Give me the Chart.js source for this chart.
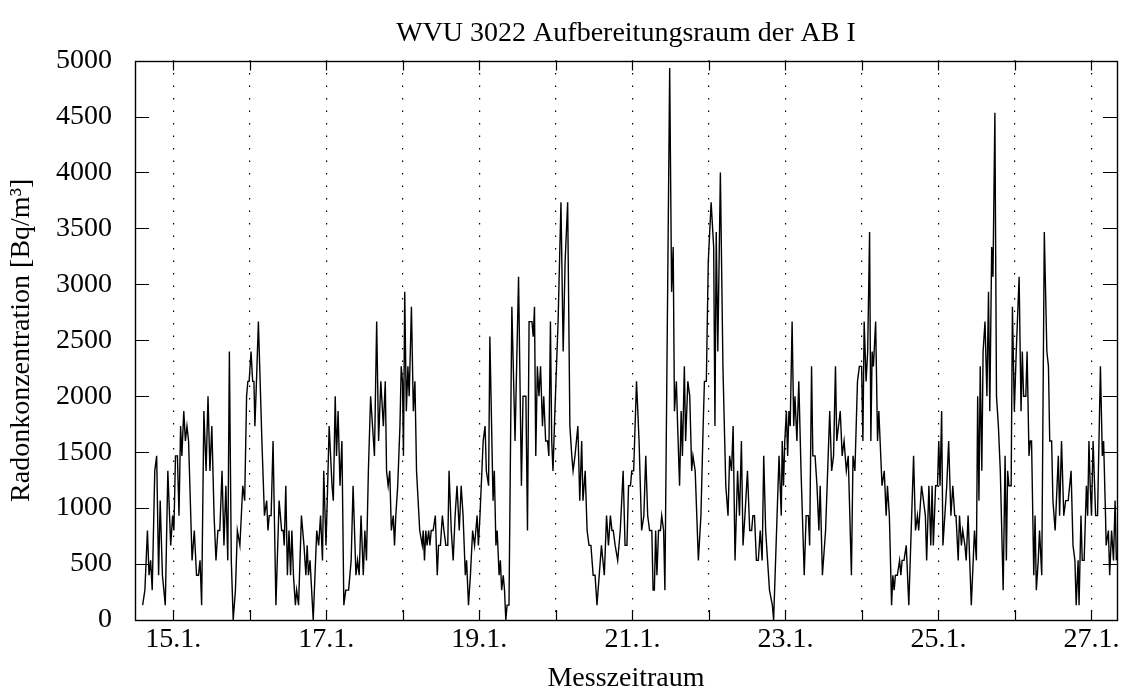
<!DOCTYPE html>
<html>
<head>
<meta charset="utf-8">
<title>WVU 3022 Aufbereitungsraum der AB I</title>
<script src="https://cdn.jsdelivr.net/npm/chart.js@4.4.1/dist/chart.umd.min.js"></script>
<style>
  body { margin: 0; background: #fff; }
  #radon-wrap { width: 1126px; height: 695px; }
</style>
</head>
<body>
<div id="radon-wrap"><canvas id="radon-chart" width="1126" height="695"></canvas></div>
<script>
// Messwerte: Stunden seit 14.1. 00:00 und Radonkonzentration in Bq/m³
const hours = [
  14.4, 15.1, 15.9, 16.4, 16.9, 17.4, 18.2, 18.8, 19.4, 19.9, 20.6, 21.5, 22.3, 23.2, 23.8,
  24.2, 24.7, 25.3, 25.8, 26.3, 26.7, 27.3, 27.8, 28.3, 28.8, 29.9, 30.6, 31.3, 31.9, 32.4,
  32.9, 33.6, 34.3, 34.9, 35.5, 36.1, 36.8, 37.4, 38.0, 38.6, 39.3, 39.9, 40.5, 41.1, 41.6,
  42.2, 42.8, 43.5, 44.1, 44.9, 45.8, 46.4, 47.0, 47.4, 47.8, 48.4, 48.9, 49.3, 49.6, 50.1,
  50.7, 51.8, 52.6, 53.3, 53.7, 54.1, 54.7, 55.3, 56.2, 57.2, 58.0, 58.5, 58.8, 59.3, 59.8,
  60.3, 60.8, 61.2, 61.7, 62.3, 62.7, 63.3, 64.2, 65.0, 65.6, 66.0, 66.4, 66.9, 67.9, 69.0,
  69.6, 70.2, 70.8, 71.2, 71.9, 72.3, 72.9, 73.8, 74.2, 74.8, 75.2, 75.7, 76.3, 76.9, 77.5,
  78.1, 79.0, 79.8, 80.4, 81.3, 81.8, 82.3, 82.9, 83.6, 84.1, 84.6, 85.2, 85.9, 87.1, 87.8,
  88.4, 89.1, 89.9, 90.5, 90.9, 91.4, 91.9, 92.4, 93.0, 93.4, 93.8, 94.4, 95.1, 95.5, 95.9,
  96.2, 96.6, 97.1, 97.6, 98.0, 98.7, 99.3, 99.8, 100.3, 101.3, 102.1, 102.4, 102.8, 103.2, 103.6,
  104.1, 104.5, 104.9, 105.5, 106.2, 106.8, 107.2, 107.8, 108.4, 108.9, 109.5, 110.1, 110.5, 111.2, 111.8,
  112.4, 113.0, 113.7, 114.3, 114.9, 115.6, 116.0, 116.6, 117.2, 117.9, 118.5, 118.9, 119.3, 119.7, 120.2,
  120.8, 121.2, 121.8, 122.2, 122.9, 123.3, 124.3, 124.7, 125.2, 125.6, 126.2, 126.6, 127.0, 127.5, 127.9,
  128.3, 128.7, 129.3, 130.2, 131.2, 132.3, 133.2, 133.7, 134.6, 135.1, 135.6, 136.5, 136.9, 137.3, 137.7,
  138.2, 138.7, 139.2, 139.8, 140.2, 140.8, 141.4, 141.8, 142.3, 142.7, 143.1, 143.7, 144.7, 145.6, 146.3,
  146.9, 147.7, 148.4, 149.0, 149.4, 150.0, 150.9, 151.5, 152.1, 152.5, 153.2, 153.8, 154.4, 155.0, 155.7,
  156.3, 156.9, 157.6, 158.3, 159.2, 159.9, 160.5, 161.1, 161.6, 162.0, 162.6, 163.4, 164.2, 165.1, 165.7,
  166.3, 166.8, 167.4, 167.8, 168.4, 169.3, 170.1, 170.9, 171.6, 172.2, 172.8, 173.4, 174.1, 174.5, 174.9,
  175.3, 175.7, 176.2, 176.8, 177.2, 177.8, 178.2, 179.7, 180.3, 180.8, 181.2, 181.8, 182.2, 182.8, 183.3,
  183.7, 184.3, 184.7, 185.4, 186.0, 186.6, 187.0, 187.7, 188.7, 189.5, 190.2, 190.6, 191.2, 191.8, 192.7,
  193.5, 193.9, 194.3, 194.8, 195.6, 196.4, 197.3, 198.0, 198.5, 199.1, 199.6, 200.2, 201.0, 201.6, 202.2,
  202.7, 203.3, 204.1, 204.8, 205.4, 205.8, 206.3, 206.9, 207.5, 208.1, 208.7, 209.2, 209.8, 210.4, 211.0,
  211.9, 212.3, 214.0, 214.7, 215.0, 215.4, 215.8, 216.3, 216.7, 217.1, 217.5, 218.1, 218.6, 219.0, 219.6,
  220.2, 220.9, 221.9, 222.5, 223.2, 223.6, 224.2, 224.6, 225.3, 225.9, 226.5, 226.9, 227.6, 228.6, 229.9,
  230.5, 231.1, 231.7, 232.1, 233.2, 233.8, 234.4, 235.1, 235.7, 236.7, 237.2, 237.8, 238.6, 239.2, 239.9,
  240.3, 240.7, 241.3, 241.8, 242.4, 242.8, 243.2, 243.6, 244.3, 244.9, 245.3, 245.7, 246.3, 247.0, 247.6,
  248.0, 248.6, 249.3, 249.7, 250.1, 250.5, 251.1, 251.8, 252.2, 252.6, 253.2, 253.9, 254.7, 256.2, 256.8,
  257.4, 257.8, 258.7, 259.3, 259.9, 260.3, 261.0, 261.6, 262.0, 262.4, 263.1, 263.7, 264.1, 264.5, 265.0,
  265.4, 266.0, 266.6, 267.2, 267.9, 268.5, 269.1, 269.5, 270.2, 270.6, 271.2, 271.6, 272.3, 272.7, 273.3,
  274.3, 275.3, 275.9, 276.3, 276.7, 277.1, 277.6, 278.0, 278.6, 279.2, 279.7, 280.1, 280.7, 281.1, 281.7,
  282.2, 282.8, 283.4, 284.3, 284.9, 285.3, 285.7, 286.1, 286.8, 287.2, 287.8, 288.4, 289.3, 289.9, 290.3,
  290.7, 291.4, 291.8, 292.4, 292.8, 293.2, 293.9, 294.3, 294.7, 295.3, 295.7, 296.4, 297.2, 298.0, 298.5,
  298.9, 299.5, 299.9, 300.6, 301.6, 302.0, 302.6, 303.3, 303.9, 304.7, 305.6, 306.2, 306.8, 307.2, 307.8,
  308.1, 308.7, 309.1, 309.7, 310.4, 310.8, 311.2, 311.6, 312.0, 312.5, 313.3, 313.9, 314.8, 315.4, 315.8,
  316.4, 316.6, 317.3, 317.7, 318.3, 318.9, 319.4, 319.8
];
const radon = [
  133, 267, 800, 400, 533, 267, 1333, 1467, 400, 1067, 400, 133, 1333, 667, 933,
  800, 1467, 1467, 933, 1733, 1467, 1867, 1600, 1733, 1600, 533, 800, 400, 400, 533,
  133, 1867, 1333, 2000, 1333, 1733, 933, 533, 800, 800, 1333, 667, 1200, 533, 2400,
  533, 0, 267, 800, 667, 1200, 1067, 2000, 2133, 2133, 2400, 2133, 2133, 1733, 2133,
  2667, 1600, 933, 1067, 800, 933, 933, 1600, 133, 1067, 800, 800, 667, 1200, 400,
  800, 400, 800, 400, 133, 267, 133, 933, 667, 400, 667, 400, 533, 0, 800,
  667, 933, 533, 1333, 667, 1067, 1733, 1200, 1067, 2000, 1467, 1867, 1200, 1600, 133,
  267, 267, 533, 1200, 400, 533, 400, 933, 400, 800, 533, 1333, 2000, 1467, 2667,
  1600, 2133, 1733, 2133, 1333, 1200, 1333, 800, 933, 667, 933, 1200, 1733, 2267, 2133,
  1467, 2933, 1867, 2267, 2000, 2800, 1867, 2133, 1333, 800, 667, 800, 533, 800, 667,
  800, 667, 800, 800, 933, 400, 667, 667, 933, 800, 667, 667, 1333, 800, 533,
  933, 1200, 800, 1200, 933, 400, 533, 133, 400, 800, 667, 800, 933, 667, 933,
  1333, 1600, 1733, 1333, 1200, 2533, 1067, 1333, 667, 800, 400, 533, 267, 400, 267,
  0, 133, 133, 2800, 1600, 3067, 1200, 2000, 2000, 800, 2667, 2667, 2533, 2800, 1467,
  2267, 2000, 2267, 1733, 2000, 1600, 1600, 1467, 2667, 1600, 1333, 1867, 2667, 3733, 2400,
  3200, 3733, 1733, 1467, 1333, 1467, 1733, 1067, 1600, 1067, 1333, 800, 667, 667, 400,
  400, 133, 400, 667, 400, 933, 667, 933, 800, 800, 667, 533, 800, 1333, 667,
  667, 1200, 1200, 1333, 1333, 2133, 1600, 800, 933, 1467, 933, 800, 800, 267, 267,
  800, 400, 800, 800, 933, 800, 267, 4933, 2933, 3333, 1867, 2133, 1733, 1200, 1867,
  1467, 2267, 1600, 2133, 2000, 1333, 1467, 1333, 533, 933, 1733, 2133, 2133, 3200, 3733,
  3333, 1733, 3467, 2400, 4000, 2267, 1200, 933, 1467, 1333, 1733, 533, 1333, 933, 1600,
  667, 933, 1333, 800, 800, 933, 933, 533, 533, 800, 533, 1467, 800, 533, 267,
  133, 0, 1467, 933, 1600, 1200, 1600, 1867, 1467, 1867, 1733, 2667, 1733, 2000, 1600,
  2133, 1333, 400, 933, 933, 667, 2267, 1467, 1467, 1200, 800, 1200, 400, 800, 1867,
  1333, 1467, 2267, 1600, 1867, 1467, 1600, 1333, 1467, 400, 1467, 1333, 2133, 2267, 2267,
  1600, 2667, 2133, 2400, 3467, 1600, 2400, 2267, 2667, 1600, 1867, 1600, 1200, 1333, 933,
  1200, 933, 133, 400, 267, 400, 400, 533, 400, 533, 533, 667, 133, 1467, 800,
  933, 800, 1200, 1067, 933, 533, 1200, 667, 1200, 667, 1200, 1200, 1600, 1200, 1867,
  667, 933, 1200, 1600, 933, 1200, 933, 933, 533, 933, 667, 800, 667, 533, 933,
  133, 800, 533, 2000, 1067, 2267, 1333, 2400, 2667, 2000, 2933, 1867, 3333, 3067, 4533,
  2000, 1733, 1333, 267, 1467, 533, 1333, 1200, 1200, 2800, 1867, 2400, 3067, 1867, 2400,
  2000, 2000, 2400, 1467, 1600, 1600, 400, 933, 267, 533, 800, 400, 3467, 2400, 2267,
  1600, 1600, 1067, 800, 1467, 933, 1600, 933, 1067, 1067, 1333, 667, 533, 133, 533,
  133, 933, 533, 533, 1200, 933, 1600, 1200, 933, 1600, 933, 933, 2267, 1467, 1600,
  933, 667, 800, 400, 800, 533, 1067, 533
];

// Achsen
const chartTitle = 'WVU 3022 Aufbereitungsraum der AB I';
const xTitle = 'Messzeitraum';
const yTitle = 'Radonkonzentration [Bq/m³]';
const firstDay = 14;          // Stunde 0 = 14.1. 00:00
const hourRange = [12, 320];  // 14.1. 12:00 bis 27.1. 08:00
const yTicks = { min: 0, max: 5000, step: 500 };
const labelDays = [15, 17, 19, 21, 23, 25, 27];

const serif = '"Liberation Serif", "Times New Roman", Times, serif';
const fontSize = 28;

// Rahmen + kurze Striche nach innen (wie im Original)
const innerTicks = {
    id: 'innerTicks',
    afterDatasetsDraw(chart) {
        const { ctx, chartArea: a, scales: { x, y } } = chart;
        ctx.save();
        ctx.strokeStyle = '#000';
        ctx.lineWidth = 1.2;
        ctx.beginPath();
        y.ticks.forEach(t => {
            const py = Math.round(y.getPixelForValue(t.value)) + 0.5;
            ctx.moveTo(a.left, py); ctx.lineTo(a.left + 14, py);
            ctx.moveTo(a.right, py); ctx.lineTo(a.right - 14, py);
        });
        x.ticks.forEach(t => {
            const px = Math.round(x.getPixelForValue(t.value)) + 0.5;
            ctx.moveTo(px, a.bottom); ctx.lineTo(px, a.bottom - 10);
            ctx.moveTo(px, a.top); ctx.lineTo(px, a.top + 10);
        });
        ctx.stroke();
        ctx.lineWidth = 1.4;
        ctx.strokeRect(Math.round(a.left) + 0.5, Math.round(a.top) + 0.5,
                       Math.round(a.width), Math.round(a.height));
        ctx.restore();
    }
};

new Chart(document.getElementById('radon-chart'), {
    type: 'line',
    data: {
        datasets: [{
            label: 'Radon',
            data: hours.map((h, i) => ({ x: h, y: radon[i] })),
            borderColor: '#000',
            borderWidth: 1.4,
            pointRadius: 0,
            fill: false,
            tension: 0
        }]
    },
    options: {
        responsive: false,
        animation: false,
        layout: { padding: { left: 0, right: 9, top: 0, bottom: 0 } },
        plugins: {
            legend: { display: false },
            tooltip: { enabled: false },
            title: {
                display: true,
                text: chartTitle,
                fullSize: false,
                color: '#000',
                font: { family: serif, size: fontSize, weight: 'normal' },
                padding: { top: 17, bottom: 10 }
            }
        },
        scales: {
            x: {
                type: 'linear',
                min: hourRange[0],
                max: hourRange[1],
                afterFit(scale) { scale.height = 75; },
                grid: { color: '#000', lineWidth: 1.2, drawTicks: false },
                border: { display: false, dash: [1.5, 11] },
                ticks: {
                    stepSize: 24,
                    includeBounds: false,
                    autoSkip: false,
                    maxRotation: 0,
                    padding: 3,
                    color: '#000',
                    font: { family: serif, size: fontSize },
                    callback(value) {
                        const day = firstDay + value / 24;
                        return labelDays.includes(day) ? day + '.1.' : '';
                    }
                },
                title: {
                    display: true,
                    text: xTitle,
                    color: '#000',
                    font: { family: serif, size: fontSize },
                    padding: { top: 0, bottom: 0 }
                }
            },
            y: {
                min: yTicks.min,
                max: yTicks.max,
                afterFit(scale) { scale.width = 135; },
                grid: { display: false },
                border: { display: false },
                ticks: {
                    stepSize: yTicks.step,
                    padding: 15,
                    color: '#000',
                    font: { family: serif, size: fontSize },
                    callback: value => String(value)
                },
                title: {
                    display: true,
                    text: yTitle,
                    color: '#000',
                    font: { family: serif, size: fontSize },
                    padding: { top: 5, bottom: 0 }
                }
            }
        }
    },
    plugins: [innerTicks]
});
</script>
</body>
</html>
